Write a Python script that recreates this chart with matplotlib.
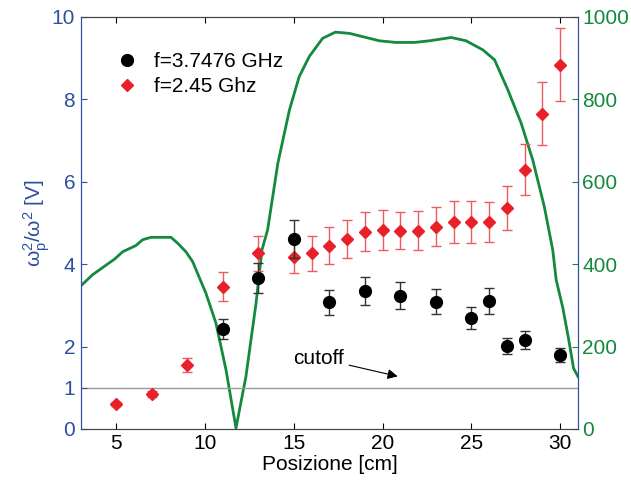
import matplotlib
matplotlib.use('Agg')
import matplotlib.pyplot as plt
from matplotlib.lines import Line2D

plt.rcParams['font.family'] = ['Liberation Sans', 'DejaVu Sans']

# f = 3.7476 GHz measurements
pos_a = [11, 13, 15, 17, 19, 21, 23, 25, 26, 27, 28, 30]
val_a = [2.42, 3.66, 4.60, 3.07, 3.35, 3.23, 3.09, 2.69, 3.11, 2.01, 2.16, 1.80]
err_a = [0.24, 0.37, 0.46, 0.31, 0.34, 0.33, 0.30, 0.27, 0.32, 0.20, 0.22, 0.17]

# f = 2.45 GHz measurements
pos_b = [5, 7, 9, 11, 13, 15, 16, 17, 18, 19, 20, 21, 22, 23, 24, 25, 26, 27, 28, 29, 30]
val_b = [0.60, 0.84, 1.56, 3.45, 4.26, 4.18, 4.26, 4.45, 4.61, 4.79, 4.83, 4.81, 4.81,
         4.91, 5.02, 5.02, 5.02, 5.36, 6.29, 7.65, 8.84]
err_b = [0.05, 0.07, 0.17, 0.35, 0.43, 0.40, 0.43, 0.44, 0.46, 0.47, 0.48, 0.45, 0.47,
         0.48, 0.50, 0.50, 0.48, 0.54, 0.62, 0.76, 0.88]

# green profile (right axis)
prof_x = [3.0, 3.66, 4.57, 4.9, 5.36, 6.1, 6.48, 6.95, 8.08, 8.45, 8.92, 9.3, 10.05,
          10.61, 11.18, 11.74, 12.3, 12.87, 13.2, 13.52, 14.1, 14.75, 15.3, 15.87,
          16.62, 17.34, 18.13, 19.07, 19.82, 20.76, 21.79, 22.63, 23.86, 24.7, 25.64,
          26.3, 27.05, 27.8, 28.45, 29.1, 29.58, 29.77, 30.15, 30.48, 30.75, 31.0]
prof_y = [347, 374, 402, 412, 430, 445, 459, 465, 465, 451, 430, 406, 329,
          257, 143, 2, 127, 305, 434, 483, 645, 774, 855, 904,
          948, 963, 960, 950, 942, 938, 938, 942, 950, 942, 920,
          896, 823, 742, 653, 540, 434, 362, 293, 216, 147, 127]

blue = '#2f4f9f'
green = '#138a3e'
red = '#e8202a'
fs = 15

fig = plt.figure(figsize=(6.31, 4.83), dpi=100)
ax = fig.add_axes([0.128, 0.112, 0.788, 0.853])
ax2 = ax.twinx()

ax2.plot(prof_x, prof_y, color=green, linewidth=2, zorder=1)
ax2.set_ylim(0, 1000)
ax2.set_yticks([0, 200, 400, 600, 800, 1000])
ax2.tick_params(axis='y', colors=green, direction='in', labelsize=fs, length=4, pad=3)

ax.axhline(1, color='#999999', linewidth=1, zorder=1)
ax.errorbar(pos_a, val_a, yerr=err_a, fmt='o', color='black', ecolor='#333333',
            markersize=8.5, capsize=3.5, elinewidth=1, zorder=4)
ax.errorbar(pos_b, val_b, yerr=err_b, fmt='D', color=red, ecolor='#ee5a5f',
            markersize=6.5, capsize=3.5, elinewidth=1, zorder=3)

ax.set_zorder(ax2.get_zorder() + 1)
ax.patch.set_visible(False)

ax.set_xlim(3, 31)
ax.set_ylim(0, 10)
ax.set_xticks([5, 10, 15, 20, 25, 30])
ax.set_yticks([0, 1, 2, 4, 6, 8, 10])
ax.tick_params(axis='x', direction='in', top=True, labelsize=fs, length=4, pad=4)
ax.tick_params(axis='y', colors=blue, direction='in', labelsize=fs, length=4, pad=4)
ax.set_xlabel('Posizione [cm]', fontsize=fs, labelpad=1)
ax.set_ylabel(r'$\mathregular{\omega_p^2/\omega^2}$ [V]', fontsize=fs, color=blue, labelpad=0)

for a in (ax, ax2):
    a.spines['left'].set_color(blue)
    a.spines['right'].set_color(blue)
    a.spines['top'].set_color('#444444')
    a.spines['bottom'].set_color('#444444')

ax.annotate('cutoff', xy=(21, 1.26), xytext=(17.8, 1.72), fontsize=fs,
            ha='right', va='center',
            arrowprops=dict(arrowstyle='-|>', color='black', lw=0.8))

handles = [Line2D([], [], marker='o', color='black', linestyle='none', markersize=8.5),
           Line2D([], [], marker='D', color=red, linestyle='none', markersize=6.5)]
ax.legend(handles, ['f=3.7476 GHz', 'f=2.45 Ghz'], loc='upper left',
          bbox_to_anchor=(0.035, 0.96), frameon=False, fontsize=fs,
          handletextpad=0.8, labelspacing=0.3, handlelength=1.0)

fig.savefig('out.png', dpi=100)
